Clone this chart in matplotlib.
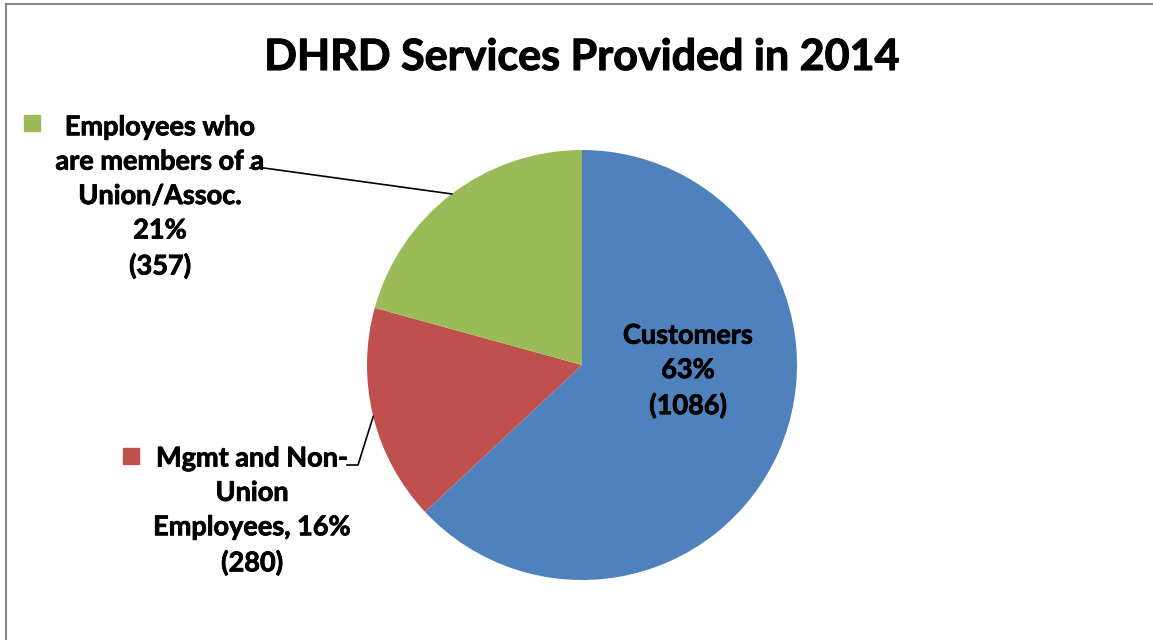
import numpy as np
import matplotlib.pyplot as plt
import matplotlib.patheffects as pe
from matplotlib.patches import Rectangle

labels = ['Customers', 'Mgmt and Non-Union Employees', 'Employees who are members of a Union/Assoc.']
counts = [1086, 280, 357]
colors = ['#4F81BD', '#C0504D', '#9BBB59']
title = 'DHRD Services Provided in 2014'

plt.rcParams['font.family'] = ['Lato', 'DejaVu Sans']
plt.rcParams['font.weight'] = 'bold'

W, H = 1153, 640
fig = plt.figure(figsize=(W / 100, H / 100), dpi=100)
ax = fig.add_axes([0, 0, 1, 1])

cx, cy, r = 582, H - 365, 215
wedges, _ = ax.pie(counts, colors=colors, startangle=90, counterclock=False,
                   center=(cx, cy), radius=r, frame=True)
ax.set_xlim(0, W)
ax.set_ylim(0, H)
ax.set_aspect('equal')
ax.axis('off')

total = sum(counts)
pct = [round(c / total * 100) for c in counts]

def anchor(w):
    a = np.deg2rad((w.theta1 + w.theta2) / 2)
    return cx + r * np.cos(a), cy + r * np.sin(a)

fs = 19.5
ls = 1.52
thick = [pe.withStroke(linewidth=0.6, foreground='black')]

# Customers (inside)
ax.text(688, H - 371, f'Customers\n{pct[0]}%\n({counts[0]})', ha='center', va='center',
        fontsize=fs, linespacing=ls, fontweight='bold', path_effects=thick)

# Union label
ax.text(160, H - 197, f'Employees who\nare members of a\nUnion/Assoc.\n{pct[2]}%\n({counts[2]})',
        ha='center', va='center', fontsize=fs, linespacing=ls, fontweight='bold', path_effects=thick)
ax.add_patch(Rectangle((24, H - 131), 16, 16, color=colors[2]))
ax0, ay0 = anchor(wedges[2])
ax.plot([250, 264, ax0], [H - 168, H - 168, ay0], color='black', lw=1.2)

# Mgmt label
ax.text(252, H - 511, f'Mgmt and Non-\nUnion\nEmployees, {pct[1]}%\n({counts[1]})',
        ha='center', va='center', fontsize=fs, linespacing=ls, fontweight='bold', path_effects=thick)
ax.add_patch(Rectangle((123, H - 464), 16, 16, color=colors[1]))
bx0, by0 = anchor(wedges[1])
ax.plot([347, 358, bx0], [H - 465, H - 465, by0], color='black', lw=1.2)

ax.text(582, H - 57, title, ha='center', va='center', fontsize=31, fontweight='bold',
        path_effects=[pe.withStroke(linewidth=0.8, foreground='black')])

# chart border (top and left visible)
ax.plot([6, W], [H - 4, H - 4], color='#888888', lw=1.5)
ax.plot([6, 6], [0, H - 4], color='#888888', lw=1.5)

fig.savefig('out.png', dpi=100)
